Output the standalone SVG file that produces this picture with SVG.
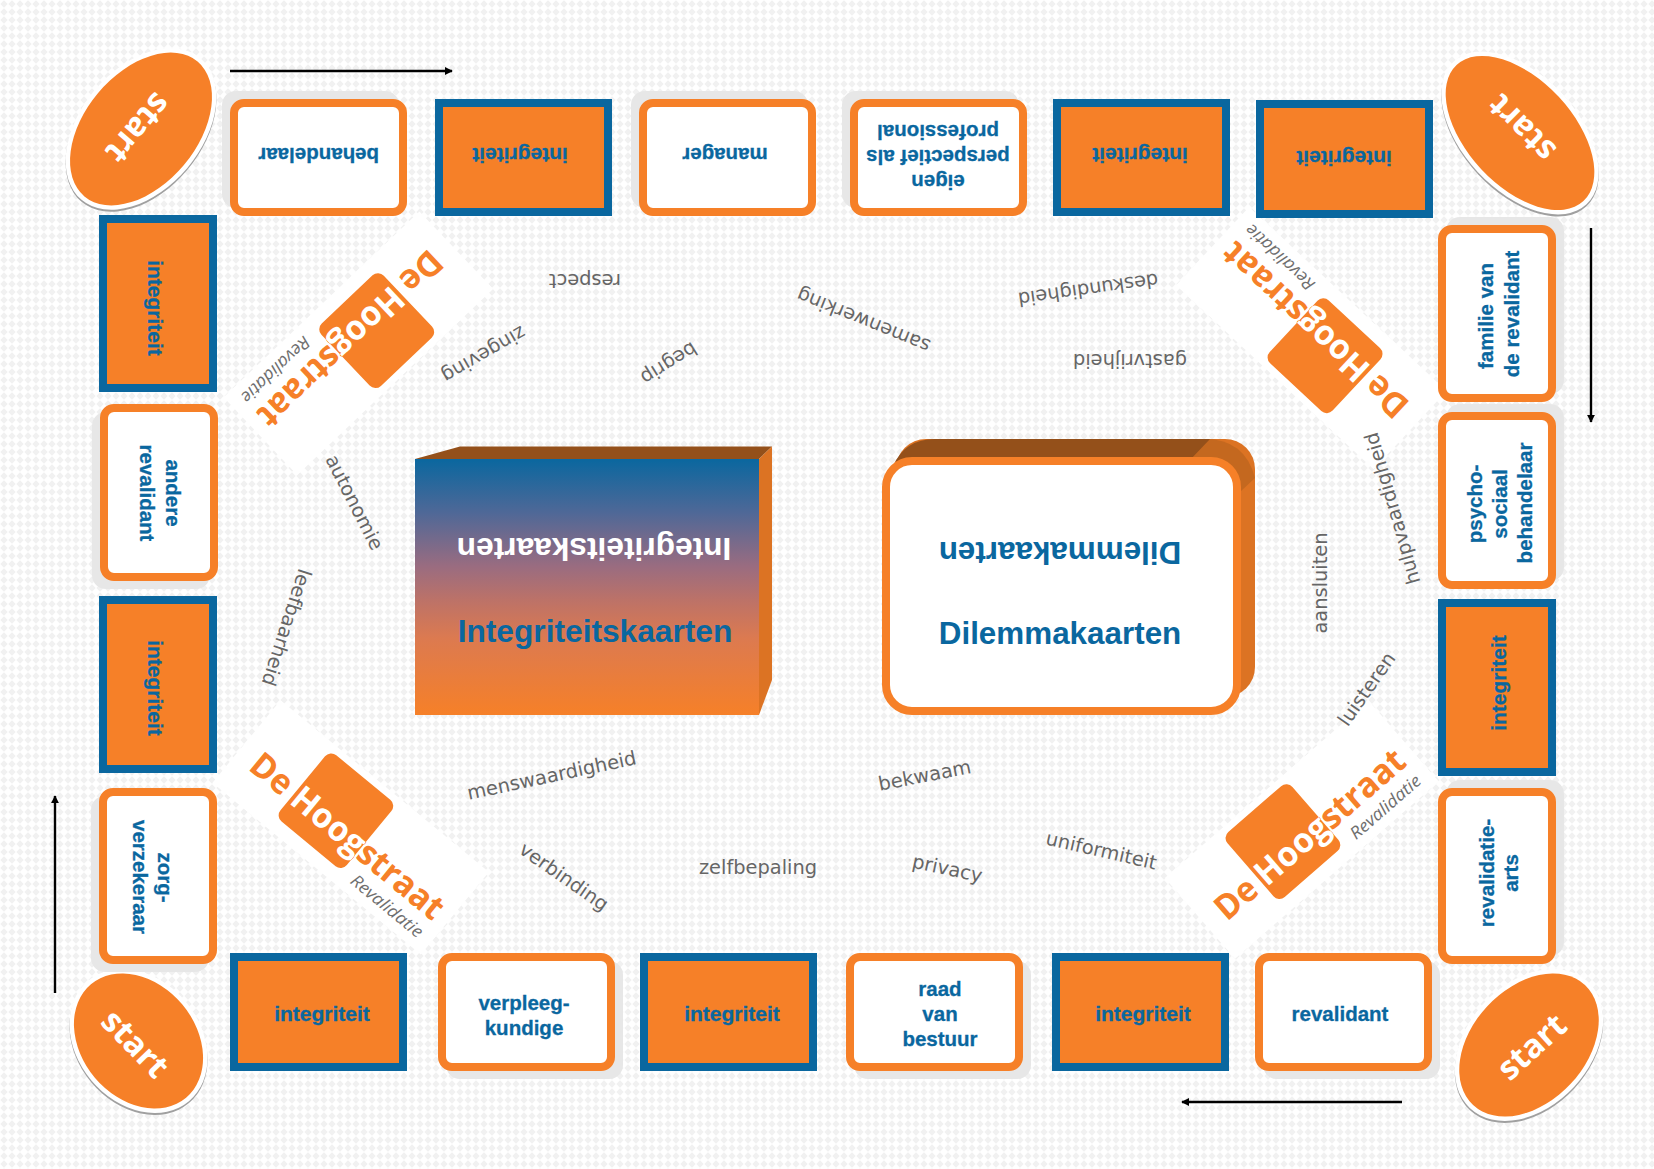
<svg xmlns="http://www.w3.org/2000/svg" width="1654" height="1169" viewBox="0 0 1654 1169">
<style>
.sh{fill:#e7e7e7}
.c{fill:#fff;stroke:#f68028;stroke-width:8}
.b{fill:#f68028;stroke:#0a679f;stroke-width:8}
.t{font-family:"Liberation Sans",Arial,sans-serif;font-weight:700;font-size:20.5px;fill:#0a679f;stroke:#0a679f;stroke-width:.3;text-anchor:middle}
.i{font-size:21px}
.big{font-family:"Liberation Sans",Arial,sans-serif;font-weight:700;text-anchor:middle}
.w{font-family:"DejaVu Sans",Verdana,sans-serif;font-size:19.4px;fill:#666;text-anchor:middle}
.st{font-family:"Open Sans",Arial,sans-serif;font-weight:700;font-size:33px;fill:#fff;text-anchor:middle}
.lg{font-family:"Open Sans",Arial,sans-serif;font-weight:700;font-size:34.5px}
.rv{font-family:"Open Sans",Arial,sans-serif;font-style:italic;font-size:17px;fill:#6f6f6f}
.e1{fill:#a0a0a0}.e2{fill:#fff}.e3{fill:#f68028}
.ar{stroke:#000;stroke-width:2.4;fill:none;marker-end:url(#ah)}
</style>
<defs>
<pattern id="bg" width="8" height="8" patternUnits="userSpaceOnUse"><path d="M4 0.3L7.7 4L4 7.7L0.3 4Z" fill="#f1f1f1"/></pattern>
<marker id="ah" viewBox="0 0 10 10" refX="9" refY="5" markerWidth="3.4" markerHeight="3.6" orient="auto"><path d="M0 0L10 5L0 10Z" fill="#000"/></marker>
<linearGradient id="gr" x1="0" y1="0" x2="0" y2="1"><stop offset="0" stop-color="#0a679f"/><stop offset="0.21" stop-color="#4f6897"/><stop offset="0.42" stop-color="#9a6c80"/><stop offset="0.55" stop-color="#bc7268"/><stop offset="0.7" stop-color="#dc7a50"/><stop offset="1" stop-color="#f68028"/></linearGradient>
<clipPath id="sq"><rect x="-65" y="-46" width="86" height="86" rx="8"/></clipPath>
</defs>
<rect width="1654" height="1169" fill="#fff"/>
<rect width="1654" height="1169" fill="url(#bg)"/>

<g id="logo-tl" transform="translate(358.7 343.6) rotate(136.5)">
<rect x="-135" y="-53" width="270" height="107" fill="#fff"/>
<text class="lg" x="-117" y="21" textLength="240" lengthAdjust="spacingAndGlyphs" fill="#f68028">De Hoogstraat</text>
<rect x="-65" y="-46" width="86" height="86" rx="8" fill="#f68028"/>
<text class="lg" x="-117" y="21" textLength="240" lengthAdjust="spacingAndGlyphs" fill="#fff" clip-path="url(#sq)">De Hoogstraat</text>
<text class="rv" x="34" y="44" textLength="88" lengthAdjust="spacingAndGlyphs">Revalidatie</text>
</g>
<g id="logo-tr" transform="translate(1311 338.5) rotate(223)">
<rect x="-135" y="-53" width="270" height="107" fill="#fff"/>
<text class="lg" x="-117" y="21" textLength="240" lengthAdjust="spacingAndGlyphs" fill="#f68028">De Hoogstraat</text>
<rect x="-65" y="-46" width="86" height="86" rx="8" fill="#f68028"/>
<text class="lg" x="-117" y="21" textLength="240" lengthAdjust="spacingAndGlyphs" fill="#fff" clip-path="url(#sq)">De Hoogstraat</text>
<text class="rv" x="34" y="44" textLength="88" lengthAdjust="spacingAndGlyphs">Revalidatie</text>
</g>
<g id="logo-bl" transform="translate(351 827) rotate(39.5)">
<rect x="-135" y="-53" width="270" height="107" fill="#fff"/>
<text class="lg" x="-117" y="21" textLength="240" lengthAdjust="spacingAndGlyphs" fill="#f68028">De Hoogstraat</text>
<rect x="-65" y="-46" width="86" height="86" rx="8" fill="#f68028"/>
<text class="lg" x="-117" y="21" textLength="240" lengthAdjust="spacingAndGlyphs" fill="#fff" clip-path="url(#sq)">De Hoogstraat</text>
<text class="rv" x="34" y="44" textLength="88" lengthAdjust="spacingAndGlyphs">Revalidatie</text>
</g>
<g id="logo-br" transform="translate(1301.5 829.4) rotate(-41)">
<rect x="-135" y="-53" width="270" height="107" fill="#fff"/>
<text class="lg" x="-117" y="21" textLength="240" lengthAdjust="spacingAndGlyphs" fill="#f68028">De Hoogstraat</text>
<rect x="-65" y="-46" width="86" height="86" rx="8" fill="#f68028"/>
<text class="lg" x="-117" y="21" textLength="240" lengthAdjust="spacingAndGlyphs" fill="#fff" clip-path="url(#sq)">De Hoogstraat</text>
<text class="rv" x="34" y="44" textLength="88" lengthAdjust="spacingAndGlyphs">Revalidatie</text>
</g>

<g id="connectors">
<line class="ar" x1="230" y1="71" x2="452" y2="71"/>
<line class="ar" x1="1591" y1="228" x2="1591" y2="422"/>
<line class="ar" x1="1402" y1="1102" x2="1182" y2="1102"/>
<line class="ar" x1="55" y1="993" x2="55" y2="796"/>
</g>

<g id="start-tl"><g transform="translate(141 129) rotate(-50)">
<ellipse class="e1" cx="-1.5" cy="1.3" rx="92.5" ry="60.5"/><ellipse class="e2" rx="92.5" ry="60.5"/><ellipse class="e3" rx="88" ry="56"/></g>
<text class="st" transform="translate(138 128) rotate(130.5)" y="11">start</text></g>
<g id="start-tr"><g transform="translate(1520 133) rotate(47)">
<ellipse class="e1" cx="1.5" cy="1.4" rx="97.5" ry="57.5"/><ellipse class="e2" rx="97.5" ry="57.5"/><ellipse class="e3" rx="93" ry="53"/></g>
<text class="st" transform="translate(1522 128) rotate(225)" y="11">start</text></g>
<g id="start-bl"><g transform="translate(138.5 1041) rotate(50)">
<ellipse class="e1" cx="1.5" cy="1.3" rx="78.5" ry="61.5"/><ellipse class="e2" rx="78.5" ry="61.5"/><ellipse class="e3" rx="74" ry="57"/></g>
<text class="st" transform="translate(135 1044) rotate(46)" y="11">start</text></g>
<g id="start-br"><g transform="translate(1529 1045) rotate(-47)">
<ellipse class="e1" cx="-1.5" cy="1.4" rx="86.5" ry="61.5"/><ellipse class="e2" rx="86.5" ry="61.5"/><ellipse class="e3" rx="82" ry="57"/></g>
<text class="st" transform="translate(1532 1047) rotate(-42)" y="11">start</text></g>

<g id="card-behandelaar"><rect class="sh" x="222" y="91" width="177" height="117" rx="14"/><rect class="c" x="234" y="103" width="169" height="109" rx="10"/><text class="t" transform="translate(318.7 155) rotate(180)" y="7">behandelaar</text></g>
<g id="card-int-t1"><rect class="b" x="439" y="103" width="169" height="109"/><text class="t i" transform="translate(520 155) rotate(180)" y="7">integriteit</text></g>
<g id="card-manager"><rect class="sh" x="631" y="91" width="177" height="117" rx="14"/><rect class="c" x="643" y="103" width="169" height="109" rx="10"/><text class="t" transform="translate(725 155) rotate(180)" y="7">manager</text></g>
<g id="card-eigen"><rect class="sh" x="842" y="91" width="177" height="117" rx="14"/><rect class="c" x="854" y="103" width="169" height="109" rx="10"/><text class="t" transform="translate(938 182) rotate(180)" y="7">eigen</text><text class="t" transform="translate(938 157) rotate(180)" y="7">perspectief als</text><text class="t" transform="translate(938 132) rotate(180)" y="7">professional</text></g>
<g id="card-int-t2"><rect class="b" x="1057" y="103" width="169" height="109"/><text class="t i" transform="translate(1140 155) rotate(180)" y="7">integriteit</text></g>
<g id="card-int-t3"><rect class="b" x="1260" y="104" width="169" height="110"/><text class="t i" transform="translate(1344 158) rotate(180)" y="7">integriteit</text></g>

<g id="card-int-l1"><rect class="b" x="103" y="219" width="110" height="169"/><text class="t i" transform="translate(155 308) rotate(90)" y="7">integriteit</text></g>
<g id="card-andere"><rect class="sh" x="92" y="412" width="118" height="177" rx="14"/><rect class="c" x="104" y="408" width="110" height="169" rx="10"/><text class="t" transform="translate(173 493) rotate(90)" y="7">andere</text><text class="t" transform="translate(147 493) rotate(90)" y="7">revalidant</text></g>
<g id="card-int-l2"><rect class="b" x="103" y="600" width="110" height="169"/><text class="t i" transform="translate(155 688) rotate(90)" y="7">integriteit</text></g>
<g id="card-zorg"><rect class="sh" x="91" y="796" width="118" height="176" rx="14"/><rect class="c" x="103" y="792" width="110" height="168" rx="10"/><text class="t" transform="translate(165 877.5) rotate(90)" y="7">zorg-</text><text class="t" transform="translate(140 877) rotate(90)" y="7">verzekeraar</text></g>

<g id="card-familie"><rect class="sh" x="1446" y="217" width="118" height="177" rx="14"/><rect class="c" x="1442" y="229" width="110" height="169" rx="10"/><text class="t" transform="translate(1486 316) rotate(-90)" y="7">familie van</text><text class="t" transform="translate(1512 314) rotate(-90)" y="7">de revalidant</text></g>
<g id="card-psycho"><rect class="sh" x="1446" y="404" width="118" height="177" rx="14"/><rect class="c" x="1442" y="416" width="110" height="169" rx="10"/><text class="t" transform="translate(1475 504) rotate(-90)" y="7">psycho-</text><text class="t" transform="translate(1500 504) rotate(-90)" y="7">sociaal</text><text class="t" transform="translate(1525 503) rotate(-90)" y="7">behandelaar</text></g>
<g id="card-int-r1"><rect class="b" x="1442" y="603" width="110" height="169"/><text class="t i" transform="translate(1499 683) rotate(-90)" y="7">integriteit</text></g>
<g id="card-revarts"><rect class="sh" x="1446" y="780" width="118" height="176" rx="14"/><rect class="c" x="1442" y="792" width="110" height="168" rx="10"/><text class="t" transform="translate(1487 873) rotate(-90)" y="7">revalidatie-</text><text class="t" transform="translate(1511 873) rotate(-90)" y="7">arts</text></g>

<g id="card-int-b1"><rect class="b" x="234" y="957" width="169" height="110"/><text class="t i" x="322" y="1021">integriteit</text></g>
<g id="card-verpleeg"><rect class="sh" x="446" y="961" width="177" height="118" rx="14"/><rect class="c" x="442" y="957" width="169" height="110" rx="10"/><text class="t" x="524" y="1010">verpleeg-</text><text class="t" x="524" y="1035">kundige</text></g>
<g id="card-int-b2"><rect class="b" x="644" y="957" width="169" height="110"/><text class="t i" x="732" y="1021">integriteit</text></g>
<g id="card-raad"><rect class="sh" x="854" y="961" width="177" height="118" rx="14"/><rect class="c" x="850" y="957" width="169" height="110" rx="10"/><text class="t" x="940" y="996">raad</text><text class="t" x="940" y="1021">van</text><text class="t" x="940" y="1046">bestuur</text></g>
<g id="card-int-b3"><rect class="b" x="1056" y="957" width="169" height="110"/><text class="t i" x="1143" y="1021">integriteit</text></g>
<g id="card-revalidant"><rect class="sh" x="1263" y="961" width="177" height="118" rx="14"/><rect class="c" x="1259" y="957" width="169" height="110" rx="10"/><text class="t" x="1340" y="1021">revalidant</text></g>

<g id="deck-integriteit">
<path d="M415 459L460 446.5H772L759 459Z" fill="#94501a"/>
<path d="M759 459L772 446.5V680L759 715Z" fill="#dc7323"/>
<rect x="415" y="459" width="344" height="256" fill="url(#gr)"/>
<text class="big" font-size="31.7" fill="#fff" transform="translate(594 538.3) rotate(180)">Integriteitskaarten</text>
<text class="big" font-size="31.7" fill="#0a679f" x="595" y="641.7">Integriteitskaarten</text>
</g>
<g id="deck-dilemma">
<rect x="896" y="439" width="359" height="258" rx="30" fill="#dc7323"/>
<path d="M1205 439Q1245 439 1255 478L1240 492L1190 458Z" fill="#c4681f"/>
<path d="M893 466Q905 439 935 439H1210L1190 460H905Z" fill="#94501a"/>
<rect x="886" y="461" width="351" height="250" rx="26" fill="#fff" stroke="#f68028" stroke-width="8"/>
<text class="big" font-size="31.4" fill="#0a679f" transform="translate(1060 541.7) rotate(180)">Dilemmakaarten</text>
<text class="big" font-size="31.4" fill="#0a679f" x="1060" y="643.5">Dilemmakaarten</text>
</g>

<g id="words">
<text class="w" transform="translate(585 279) rotate(180)" y="5">respect</text>
<text class="w" transform="translate(483 353) rotate(150)" y="5">zingeving</text>
<text class="w" transform="translate(668 362) rotate(148)" y="5">begrip</text>
<text class="w" transform="translate(864 319) rotate(202)" y="5">samenwerking</text>
<text class="w" transform="translate(1088 288) rotate(172)" y="5">deskundigheid</text>
<text class="w" transform="translate(1130 359) rotate(180)" y="5">gastvrijheid</text>
<text class="w" transform="translate(1394 508) rotate(-106)" y="5">hulpvaardigheid</text>
<text class="w" transform="translate(353 503) rotate(63)" y="5">autonomie</text>
<text class="w" transform="translate(285 627) rotate(108)" y="5">leefbaarheid</text>
<text class="w" transform="translate(1322 583) rotate(-90)" y="5">aansluiten</text>
<text class="w" transform="translate(1368 690) rotate(-55)" y="5">luisteren</text>
<text class="w" transform="translate(552 777) rotate(-12)" y="5">menswaardigheid</text>
<text class="w" transform="translate(925 777) rotate(-11)" y="5">bekwaam</text>
<text class="w" transform="translate(563 878) rotate(35)" y="5">verbinding</text>
<text class="w" transform="translate(758 869)" y="5">zelfbepaling</text>
<text class="w" transform="translate(947 870) rotate(12)" y="5">privacy</text>
<text class="w" transform="translate(1101 852) rotate(13)" y="5">uniformiteit</text>
</g>
</svg>
